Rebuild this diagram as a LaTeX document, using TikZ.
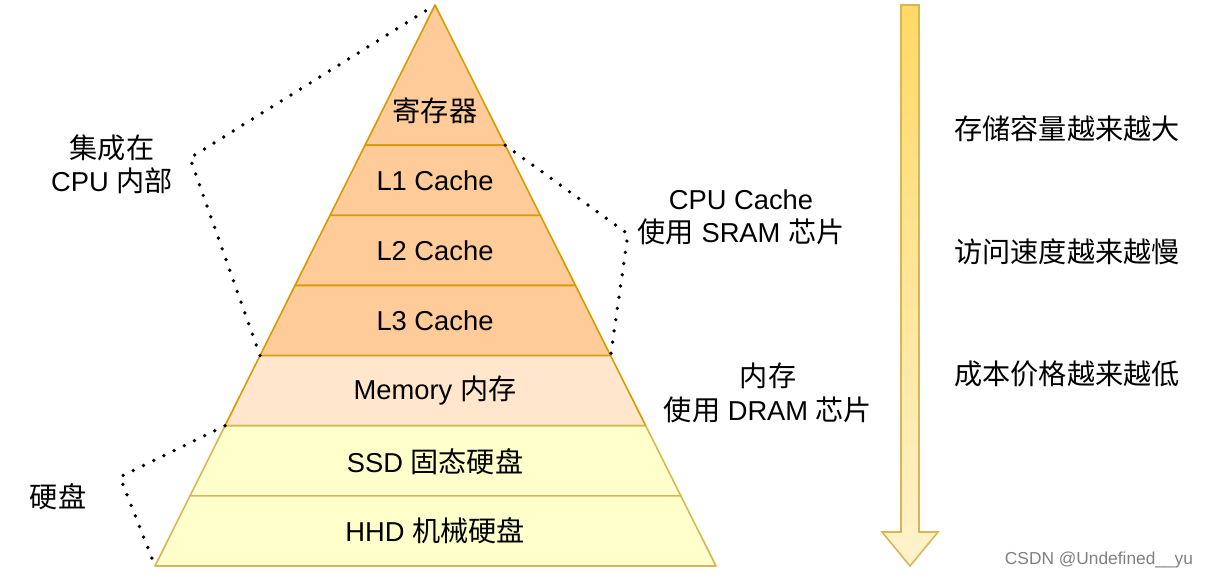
\documentclass[tikz,border=0pt]{standalone}
\usepackage{fontspec}
\setmainfont{Liberation Sans}
\newfontfamily\cjk[Scale=1.03]{Noto Sans CJK SC}
\usetikzlibrary{calc}
\definecolor{cachefill}{HTML}{FFCC99}
\definecolor{cacheline}{HTML}{D79B00}
\definecolor{memfill}{HTML}{FFE6CC}
\definecolor{diskfill}{HTML}{FFFFCC}
\definecolor{diskline}{HTML}{D6B656}
\definecolor{arrowtop}{HTML}{FFD966}
\definecolor{arrowbottom}{HTML}{FFF2CC}
\tikzset{cache/.style={draw=cacheline, fill=cachefill, line width=1.2pt, line join=round}}
\tikzset{memory/.style={draw=cacheline, fill=memfill, line width=1.2pt, line join=round}}
\tikzset{disk/.style={draw=diskline, fill=diskfill, line width=1.2pt, line join=round}}
\tikzset{trend/.style={draw=diskline, top color=arrowtop, bottom color=arrowbottom, line width=1.2pt}}
\tikzset{link/.style={line width=2.8pt, line cap=round, dash pattern=on 0pt off 8.5pt}}
\tikzset{label/.style={align=center, inner sep=0pt}}

\begin{document}
\begin{tikzpicture}[x=0.75pt, y=-0.75pt, font=\fontsize{20.5}{25}\selectfont]
\useasboundingbox (0,0) rectangle (1209,580);

\coordinate (apex) at (435,5);
\coordinate (bl) at (155,566);
\coordinate (br) at (716,566);
\foreach \n/\t in {1/0.25, 2/0.375, 3/0.5, 4/0.625, 5/0.75, 6/0.875}{
  \coordinate (l\n) at ($(apex)!\t!(bl)$);
  \coordinate (r\n) at ($(apex)!\t!(br)$);
}

% pyramid
\draw[cache] (apex) -- (r1) -- (l1) -- cycle;
\draw[cache] (l1) -- (r1) -- (r2) -- (l2) -- cycle;
\draw[cache] (l2) -- (r2) -- (r3) -- (l3) -- cycle;
\draw[cache] (l3) -- (r3) -- (r4) -- (l4) -- cycle;
\draw[memory] (l4) -- (r4) -- (r5) -- (l5) -- cycle;
\draw[disk] (l5) -- (r5) -- (r6) -- (l6) -- cycle;
\draw[disk] (l6) -- (r6) -- (br) -- (bl) -- cycle;

\node[label] (reg) at (435,111) {{\cjk 寄存器}};
\node[label] (l1cache) at (435,181) {L1 Cache};
\node[label] (l2cache) at (435,251) {L2 Cache};
\node[label] (l3cache) at (435,321) {L3 Cache};
\node[label] (mem) at (435,391) {Memory {\cjk 内存}};
\node[label] (ssd) at (435,462) {SSD {\cjk 固态硬盘}};
\node[label] (hhd) at (435,531) {HHD {\cjk 机械硬盘}};

% dotted groups
\coordinate (cpubend) at (190,158);
\coordinate (srambend) at (628,234);
\coordinate (diskbend) at (120,477);
\draw[link] (l4) -- (cpubend) -- (apex);
\draw[link] (r1) -- (srambend) -- (r4);
\draw[link] (l5) -- (diskbend) -- (bl);

\node[label] (cpuin) at (112,164) {{\cjk 集成在}\\CPU {\cjk 内部}};
\node[label] (sram) at (741,217) {CPU Cache\\{\cjk 使用} SRAM {\cjk 芯片}};
\node[label] (dram) at (768,393) {{\cjk 内存}\\{\cjk 使用} DRAM {\cjk 芯片}};
\node[label] (hdd) at (58,497) {{\cjk 硬盘}};

% trend arrow
\draw[trend] (901,5) -- (919,5) -- (919,532) -- (938,532) -- (910,566) -- (882,532) -- (901,532) -- cycle;
\node[label] (capacity) at (1067,129) {{\cjk 存储容量越来越大}};
\node[label] (speed) at (1067,252) {{\cjk 访问速度越来越慢}};
\node[label] (cost) at (1067,374) {{\cjk 成本价格越来越低}};

\node[label, text=gray, font=\fontsize{13}{15}\selectfont] (mark) at (1099,560) {CSDN @Undefined\_\_yu};
\end{tikzpicture}
\end{document}
